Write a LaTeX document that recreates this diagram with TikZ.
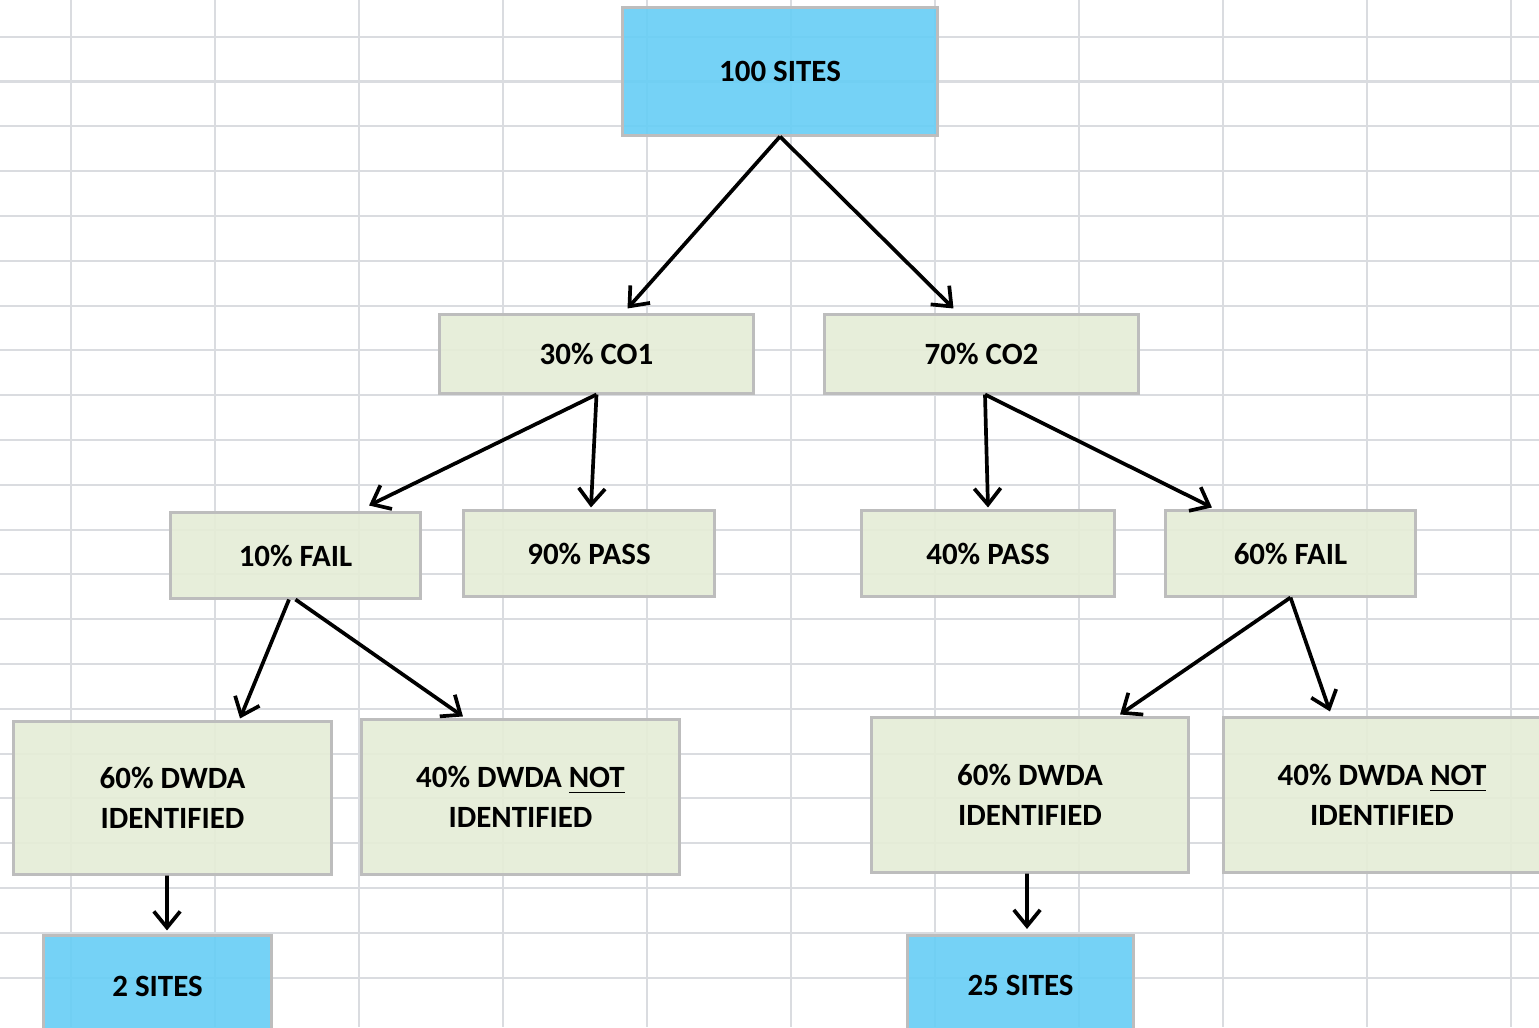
\documentclass[tikz,border=0pt]{standalone}
\usepackage{fontspec}
\setmainfont{Carlito}
\usetikzlibrary{arrows.meta}
\definecolor{cellblue}{RGB}{106,207,245}
\definecolor{cellgreen}{RGB}{229,237,215}
\definecolor{cellborder}{RGB}{189,189,189}
\definecolor{gridline}{RGB}{218,220,224}
\tikzset{
	box/.style={rectangle,draw=cellborder,line width=0.85pt,fill opacity=0.93,text opacity=1,align=center,inner sep=0pt,font=\fontsize{8.8pt}{11.4pt}\selectfont\bfseries},
	sites/.style={box,fill=cellblue},
	choice/.style={box,fill=cellgreen},
	cell/.style={gridline,line width=0.57pt},
	arr/.style={->,black,line width=1.05pt},
	>={Straight Barb[length=4.6pt,width=7.5pt]},
	}

\begin{document}
\begin{tikzpicture}[x=0.01cm,y=-0.01cm]
\useasboundingbox (0,0) rectangle (1539,1027);
\clip (0,0) rectangle (1539,1027);
%GRIGLIA
\foreach \x in {71,215,...,1511} \draw[cell] (\x,0) -- (\x,1027);
\foreach \y in {36.7,81.5,...,1022} \draw[cell] (0,\y) -- (1539,\y);
%NODI
\node[sites, minimum width=3.14cm, minimum height=1.27cm, text depth=-0.06cm] (top) at (780,71.5) {100 SITES};
\node[choice, minimum width=3.13cm, minimum height=0.78cm] (co1) at (596.5,354) {30\% CO1};
\node[choice, minimum width=3.13cm, minimum height=0.78cm] (co2) at (981.5,354) {70\% CO2};
\node[choice, minimum width=2.49cm, minimum height=0.85cm] (fail1) at (295.5,555.5) {10\% FAIL};
\node[choice, minimum width=2.50cm, minimum height=0.85cm] (pass1) at (589,553.5) {90\% PASS};
\node[choice, minimum width=2.52cm, minimum height=0.85cm] (pass2) at (988,553.5) {40\% PASS};
\node[choice, minimum width=2.49cm, minimum height=0.85cm] (fail2) at (1290.5,553.5) {60\% FAIL};
\node[choice, minimum width=3.17cm, minimum height=1.52cm] (id1) at (172.5,798) {60\% DWDA\\IDENTIFIED};
\node[choice, minimum width=3.17cm, minimum height=1.54cm] (not1) at (520.5,797) {40\% DWDA \underline{NOT}\\IDENTIFIED};
\node[choice, minimum width=3.16cm, minimum height=1.54cm] (id2) at (1030,795) {60\% DWDA\\IDENTIFIED};
\node[choice, minimum width=3.16cm, minimum height=1.54cm] (not2) at (1382,795) {40\% DWDA \underline{NOT}\\IDENTIFIED};
\node[sites, minimum width=2.27cm, minimum height=1.00cm] (sites1) at (157.5,986) {2 SITES};
\node[sites, minimum width=2.25cm, minimum height=1.00cm] (sites2) at (1020.5,985.5) {25 SITES};
%FRECCE
\draw[arr] (top.south) -- ([xshift=0.31cm,yshift=0.05cm]co1.north);
\draw[arr] (top.south) -- ([xshift=-0.28cm,yshift=0.05cm]co2.north);
\draw[arr] (co1.south) -- ([xshift=0.735cm,yshift=0.06cm]fail1.north);
\draw[arr] (co1.south) -- ([xshift=0.02cm,yshift=0.02cm]pass1.north);
\draw[arr] ([xshift=0.035cm]co2.south) -- ([yshift=0.02cm]pass2.north);
\draw[arr] ([xshift=0.035cm]co2.south) -- ([xshift=-0.785cm,yshift=0.02cm]fail2.north);
\draw[arr] ([xshift=-0.065cm]fail1.south) -- ([xshift=0.675cm,yshift=0.02cm]id1.north);
\draw[arr] (fail1.south) -- ([xshift=-0.575cm,yshift=0.02cm]not1.north);
\draw[arr] (fail2.south) -- ([xshift=0.9cm,yshift=0.02cm]id2.north);
\draw[arr] (fail2.south) -- ([xshift=-0.52cm,yshift=0.05cm]not2.north);
\draw[arr] ([xshift=-0.055cm]id1.south) -- ([xshift=0.095cm,yshift=0.04cm]sites1.north);
\draw[arr] ([xshift=-0.03cm]id2.south) -- ([xshift=0.065cm,yshift=0.05cm]sites2.north);
\end{tikzpicture}
\end{document}
